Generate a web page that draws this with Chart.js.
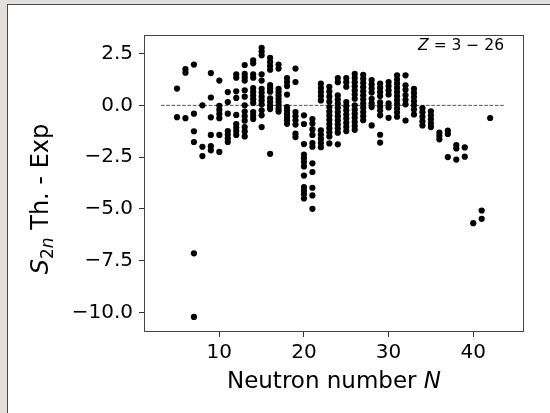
<!DOCTYPE html>
<html>
<head>
<meta charset="utf-8">
<script src="https://cdn.jsdelivr.net/npm/chart.js@4.4.1/dist/chart.umd.min.js"></script>
<style>
  html, body { margin: 0; padding: 0; }
  body { width: 550px; height: 413px; background: #e2dfde; position: relative; overflow: hidden; }
  #panel { position: absolute; left: 7px; top: 4px; right: 0; bottom: 0; background: #fff;
           border-top: 1px solid #4a4a4a; border-left: 1px solid #4a4a4a; }
  #wrap { position: absolute; left: 0; top: 0; width: 550px; height: 413px; }
</style>
</head>
<body>
<div id="panel"></div>
<div id="wrap"><canvas id="chart" width="550" height="413"></canvas></div>
<script>
// neutron number N and the S2n (theory - experiment) values measured at that N
const neutronNumbers = [5, 6, 7, 8, 9, 10, 11, 12, 13, 14, 15, 16, 17, 18, 19, 20, 21, 22, 23,
                        24, 25, 26, 27, 28, 29, 30, 31, 32, 33, 34, 35, 36, 37, 38, 39, 40, 41, 42];
const s2nDiffByN = [
    [0.81, -0.57],
    [1.75, 1.58, -0.62],
    [1.97, -0.4, -1.25, -1.77, -7.15, -10.22],
    [0.0, -2.0, -2.45],
    [1.56, 0.38, -0.58, -1.43, -1.97, -2.17],
    [1.2, -0.02, -0.22, -0.42, -0.62, -1.43, -2.25],
    [0.64, 0.16, -0.4, -1.24, -1.42, -1.6, -1.77],
    [1.5, 1.34, 0.68, 0.36, -0.46, -0.9, -1.07, -1.24, -1.43],
    [1.95, 1.52, 1.36, 1.2, 0.73, 0.42, 0.0, -0.3, -0.52, -0.74, -1.05, -1.26, -1.5],
    [2.18, 2.03, 1.5, 1.34, 0.84, 0.66, 0.48, 0.3, 0.12, -0.32, -0.5, -0.66],
    [2.78, 2.6, 2.42, 1.5, 1.2, 0.8, 0.62, 0.42, 0.24, 0.05, -0.24, -0.48, -1.05],
    [2.3, 2.1, 1.9, 1.72, 0.98, 0.82, 0.66, 0.34, 0.16, -0.02, -0.18, -2.34],
    [1.97, 1.78, 0.8, 0.64, 0.48, 0.32, 0.16, 0.0, -0.16, -0.3],
    [1.32, 1.13, 0.93, 0.52, -0.08, -0.24, -0.4, -0.56, -0.72, -0.89],
    [1.78, 1.13, -0.32, -0.52, -0.72, -0.93, -1.37, -1.53],
    [-0.48, -0.9, -1.87, -2.38, -2.56, -2.74, -2.95, -3.39, -3.95, -4.12, -4.3, -4.5],
    [-0.66, -0.88, -1.16, -1.43, -1.82, -2.0, -2.8, -3.22, -3.98, -4.35, -5.0],
    [1.05, 0.84, 0.64, 0.45, 0.24, -1.21, -1.42, -1.62, -1.82, -2.02],
    [0.9, 0.66, 0.42, 0.18, -0.08, -0.3, -0.5, -0.7, -0.9, -1.1, -1.3, -1.5, -1.84],
    [1.32, 1.12, 0.48, 0.28, 0.08, -0.12, -0.32, -0.52, -0.72, -0.92, -1.12, -1.32, -1.88],
    [1.32, 1.12, 0.9, 0.16, -0.04, -0.24, -0.44, -0.64, -0.84, -1.04, -1.24],
    [1.52, 1.32, 1.12, 0.92, 0.72, 0.52, 0.32, 0.0, -0.2, -0.4, -0.6, -0.8, -1.0, -1.18],
    [1.48, 1.28, 1.08, 0.88, 0.68, 0.48, 0.28, 0.08, -0.12, -0.32, -0.52, -0.72],
    [1.22, 1.02, 0.82, 0.62, 0.32, 0.1, -0.08, -0.97],
    [1.05, 0.85, 0.65, 0.45, 0.15, -0.05, -0.25, -0.48, -1.42, -1.8],
    [1.13, 0.93, 0.73, 0.53, 0.1, -0.1, -0.6],
    [1.45, 1.25, 1.05, 0.85, 0.65, 0.45, 0.25, 0.05, -0.15, -0.35, -0.55],
    [1.45, 0.97, 0.75, 0.5, 0.27, 0.05, -0.73],
    [0.8, 0.6, 0.4, 0.2, 0.0, -0.2, -0.44],
    [-0.13, -0.33, -0.55, -0.77, -0.97],
    [-0.29, -0.48, -0.67, -0.87, -1.05],
    [-1.32, -1.48, -1.64],
    [-1.22, -1.38, -2.5],
    [-1.92, -2.08, -2.62],
    [-2.03, -2.48],
    [-5.69],
    [-5.08, -5.48],
    [-0.61]
];

const xTicks = [10, 20, 30, 40];
const xTickLabels = ['10', '20', '30', '40'];
const yTicks = [2.5, 0, -2.5, -5, -7.5, -10];
const yTickLabels = ['2.5', '0.0', '\u22122.5', '\u22125.0', '\u22127.5', '\u221210.0'];
const zeroLineX = [3.1, 43.7];   // extent of the dashed y = 0 line

const FONT = '"DejaVu Sans"';

const points = [];
neutronNumbers.forEach((n, i) => {
    s2nDiffByN[i].forEach(v => points.push({x: n, y: v}));
});

// draw a row of text pieces with different fonts, starting at x (or centred / right aligned)
function drawRuns(ctx, runs, x, y, align) {
    let total = 0;
    runs.forEach(r => { ctx.font = r.font; r.w = ctx.measureText(r.text).width; total += r.w; });
    let cx = align === 'center' ? x - total / 2 : (align === 'right' ? x - total : x);
    ctx.textAlign = 'left';
    ctx.textBaseline = 'alphabetic';
    runs.forEach(r => {
        ctx.font = r.font;
        ctx.fillText(r.text, cx, y + (r.dy || 0));
        cx += r.w;
    });
}

const frameAndLabels = {
    id: 'frameAndLabels',
    afterDraw(chart) {
        const {ctx, chartArea: a} = chart;
        ctx.save();
        ctx.strokeStyle = '#444';
        ctx.lineWidth = 1;
        ctx.strokeRect(Math.round(a.left) + 0.5, Math.round(a.top) + 0.5,
                       Math.round(a.right - a.left) - 1, Math.round(a.bottom - a.top) - 1);

        ctx.fillStyle = '#000';
        // x axis title
        drawRuns(ctx, [
            {text: 'Neutron number ', font: '23px ' + FONT},
            {text: 'N', font: 'italic 23px ' + FONT}
        ], (a.left + a.right) / 2, 388, 'center');

        // y axis title
        ctx.save();
        ctx.translate(0, 199);
        ctx.rotate(-Math.PI / 2);
        drawRuns(ctx, [
            {text: 'S', font: 'italic 24px ' + FONT},
            {text: '2', font: '17px ' + FONT, dy: 5},
            {text: 'n', font: 'italic 17px ' + FONT, dy: 5},
            {text: ' Th. - Exp', font: '24px ' + FONT}
        ], 0, 48, 'center');
        ctx.restore();

        // Z range note
        drawRuns(ctx, [
            {text: 'Z', font: 'italic 15.5px ' + FONT},
            {text: ' = 3 \u2212 26', font: '15.5px ' + FONT}
        ], a.right - 20, 50, 'right');
        ctx.restore();
    }
};

const ctx = document.getElementById('chart').getContext('2d');
const chart = new Chart(ctx, {
    type: 'scatter',
    data: {
        datasets: [
            {
                data: points,
                backgroundColor: '#000',
                borderWidth: 0,
                pointRadius: 3.1,
                pointHoverRadius: 3.1
            },
            {
                type: 'line',
                data: zeroLineX.map(x => ({x: x, y: 0})),
                borderColor: '#555',
                borderWidth: 1,
                borderDash: [3.7, 1.6],
                pointRadius: 0,
                fill: false
            }
        ]
    },
    options: {
        responsive: false,
        animation: false,
        devicePixelRatio: 1,
        events: [],
        layout: {padding: {left: 0, top: 35, right: 26, bottom: 0}},
        plugins: {
            legend: {display: false},
            tooltip: {enabled: false}
        },
        scales: {
            x: {
                type: 'linear',
                min: 1.1,
                max: 46,
                afterFit(scale) { scale.height = 81; },
                afterBuildTicks(scale) { scale.ticks = xTicks.map(v => ({value: v})); },
                grid: {display: true, drawOnChartArea: false, drawTicks: true, tickLength: 5, color: '#333'},
                border: {display: false},
                ticks: {
                    color: '#000',
                    font: {family: 'DejaVu Sans', size: 20},
                    padding: 4,
                    maxRotation: 0,
                    autoSkip: false,
                    callback: (v, i) => xTickLabels[i]
                }
            },
            y: {
                type: 'linear',
                min: -10.95,
                max: 3.4,
                afterFit(scale) { scale.width = 144; },
                afterBuildTicks(scale) { scale.ticks = yTicks.map(v => ({value: v})); },
                grid: {display: true, drawOnChartArea: false, drawTicks: true, tickLength: 5, color: '#333'},
                border: {display: false},
                ticks: {
                    color: '#000',
                    font: {family: 'DejaVu Sans', size: 20},
                    padding: 6,
                    autoSkip: false,
                    callback: (v, i) => yTickLabels[i]
                }
            }
        }
    },
    plugins: [frameAndLabels]
});
</script>
</body>
</html>
